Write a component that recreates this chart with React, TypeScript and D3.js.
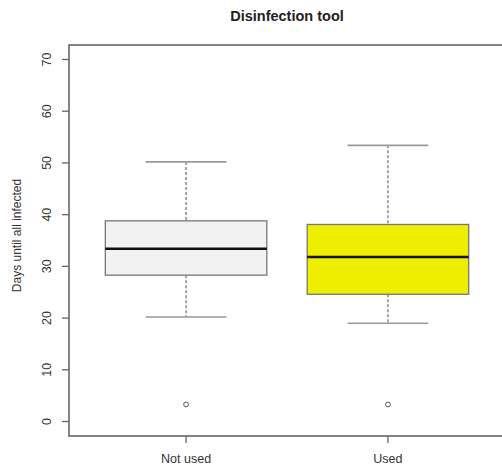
import * as d3 from "d3";
import React from "react";

const groups = ["Not used", "Used"];
const lowerWhisker = [20.2, 19.0];
const lowerQuartile = [28.3, 24.6];
const medians = [33.4, 31.8];
const upperQuartile = [38.8, 38.1];
const upperWhisker = [50.2, 53.4];
const outliers = [[3.3], [3.3]];
const yTicks = [0, 10, 20, 30, 40, 50, 60, 70];

const fills = ["#f2f2f2", "#eeee00"];

function App() {
  const width = 502;
  const height = 470;
  const left = 69;
  const right = 505;
  const top = 45;
  const bottom = 436;

  // R-style 4% padding around 0..70 and 0.5..2.5
  const y = d3.scaleLinear().domain([-2.8, 72.8]).range([bottom, top]);
  const x = d3.scaleLinear().domain([0.42, 2.58]).range([left, right]);
  const boxHalf = x(1.4) - x(1);
  const capHalf = boxHalf / 2;
  const font = "Liberation Sans, Arial, sans-serif";
  const textColor = "#333";
  const axisColor = "#666";

  return (
    <svg
      width={width}
      height={height}
      style={{ position: "absolute", left: 0, top: 0, background: "#fff" }}
      fontFamily={font}
    >
      <text
        x={(left + right) / 2}
        y={20.5}
        textAnchor="middle"
        fontSize={14.5}
        fontWeight="bold"
        fill="#222"
      >
        Disinfection tool
      </text>

      {groups.map((g, i) => {
        const cx = x(i + 1);
        return (
          <g key={g}>
            <line
              x1={cx}
              x2={cx}
              y1={y(upperWhisker[i])}
              y2={y(upperQuartile[i])}
              stroke="#777"
              strokeWidth={1.3}
              strokeDasharray="3,2"
            />
            <line
              x1={cx}
              x2={cx}
              y1={y(lowerQuartile[i])}
              y2={y(lowerWhisker[i])}
              stroke="#777"
              strokeWidth={1.3}
              strokeDasharray="3,2"
            />
            <line
              x1={cx - capHalf}
              x2={cx + capHalf}
              y1={y(upperWhisker[i])}
              y2={y(upperWhisker[i])}
              stroke="#999"
              strokeWidth={1.6}
            />
            <line
              x1={cx - capHalf}
              x2={cx + capHalf}
              y1={y(lowerWhisker[i])}
              y2={y(lowerWhisker[i])}
              stroke="#999"
              strokeWidth={1.6}
            />
            <rect
              x={cx - boxHalf}
              y={y(upperQuartile[i])}
              width={boxHalf * 2}
              height={y(lowerQuartile[i]) - y(upperQuartile[i])}
              fill={fills[i]}
              stroke="#777"
              strokeWidth={1.3}
            />
            <line
              x1={cx - boxHalf}
              x2={cx + boxHalf}
              y1={y(medians[i])}
              y2={y(medians[i])}
              stroke="#111"
              strokeWidth={2.6}
            />
            {outliers[i].map((o, j) => (
              <circle
                key={j}
                cx={cx}
                cy={y(o)}
                r={2.4}
                fill="none"
                stroke="#555"
                strokeWidth={1}
              />
            ))}
          </g>
        );
      })}

      <rect
        x={left}
        y={top}
        width={right - left}
        height={bottom - top}
        fill="none"
        stroke={axisColor}
        strokeWidth={1.6}
      />

      {yTicks.map((t) => (
        <g key={t} transform={`translate(${left},${y(t)})`}>
          <line x1={-7} x2={0} stroke={axisColor} strokeWidth={1.3} />
          <text
            transform="translate(-22,0) rotate(-90)"
            textAnchor="middle"
            dy="0.35em"
            fontSize={12.5}
            fill={textColor}
          >
            {t}
          </text>
        </g>
      ))}

      {groups.map((g, i) => (
        <g key={g} transform={`translate(${x(i + 1)},${bottom})`}>
          <line y1={0} y2={7} stroke={axisColor} strokeWidth={1.3} />
          <text y={27} textAnchor="middle" fontSize={12.5} fill={textColor}>
            {g}
          </text>
        </g>
      ))}

      <text
        transform={`translate(17,${(top + bottom) / 2 - 5}) rotate(-90)`}
        textAnchor="middle"
        dy="0.35em"
        fontSize={12}
        fill={textColor}
      >
        Days until all infected
      </text>
    </svg>
  );
}

export default App;
